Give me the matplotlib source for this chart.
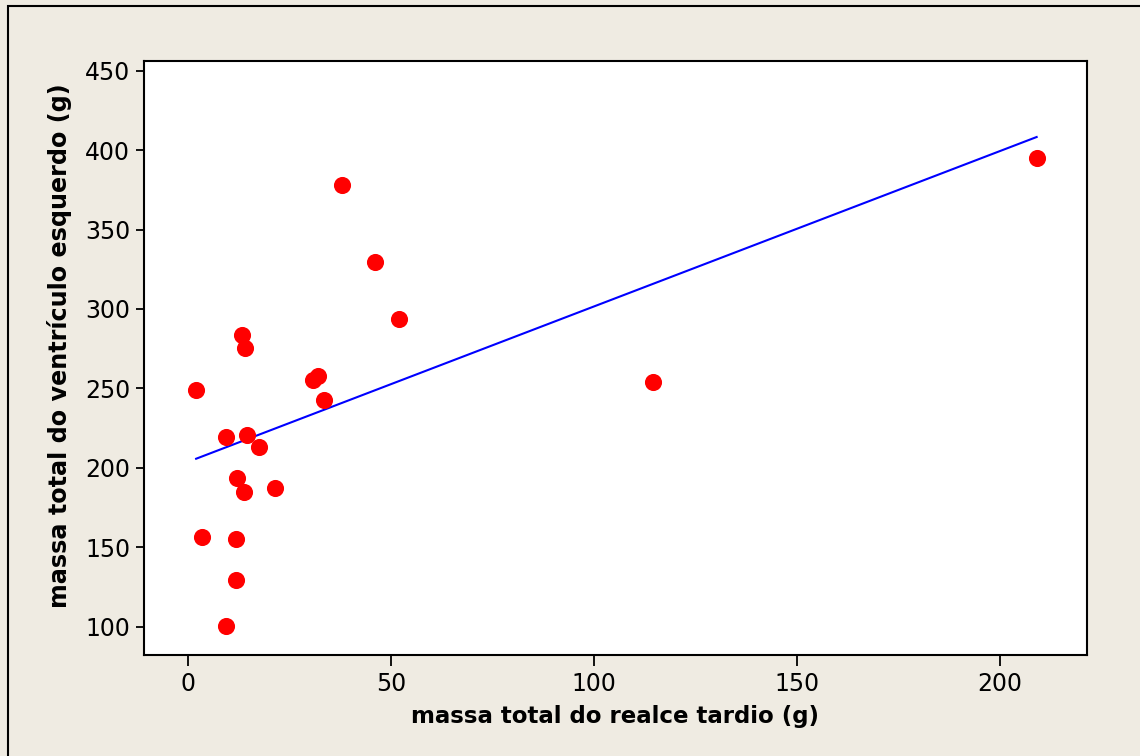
import numpy as np
import matplotlib.pyplot as plt
from matplotlib.patches import Rectangle

plt.rcParams['font.family'] = ['DejaVu Sans']

# massa total do realce tardio (g) x massa do VE (g)
realce = [2.0, 3.4, 9.3, 9.3, 11.7, 11.7, 12.1, 13.2, 13.7, 14.1, 14.5,
          17.5, 21.4, 30.9, 31.9, 33.4, 37.9, 46.1, 52.0, 114.5, 209.0]
massa_ve = [249.0, 156.2, 219.2, 100.6, 155.1, 129.2, 193.5, 283.9, 184.9, 275.2, 220.5,
            213.4, 187.4, 255.2, 257.7, 242.9, 377.8, 329.4, 293.4, 254.2, 395.0]

x_ticks = [0, 50, 100, 150, 200]
y_ticks = [100, 150, 200, 250, 300, 350, 400, 450]

bg = '#EFEBE2'

fig = plt.figure(figsize=(11.4, 7.56), dpi=100, facecolor=bg)
ax = fig.add_axes([0.1263, 0.1336, 0.8272, 0.7857])
ax.set_facecolor('white')

# reta de regressão linear
b, a = np.polyfit(realce, massa_ve, 1)
xr = np.array([min(realce), max(realce)])
ax.plot(xr, a + b * xr, color='#0000FF', linewidth=1.5, zorder=2)

ax.plot(realce, massa_ve, linestyle='none', marker='o', markersize=11.3,
        markerfacecolor='#FF0000', markeredgecolor='#FF0000', zorder=3)

ax.set_xlim(-10.84, 221.4)
ax.set_ylim(82.2, 456.1)
ax.set_xticks(x_ticks)
ax.set_yticks(y_ticks)

for s in ax.spines.values():
    s.set_linewidth(1.5)
ax.tick_params(axis='x', length=8, width=1.3, pad=4, labelsize=17)
ax.tick_params(axis='y', length=6, width=1.3, pad=4, labelsize=17)

ax.set_xlabel('massa total do realce tardio (g)', fontsize=16.5, fontweight='bold', va='center')
ax.xaxis.set_label_coords(0.5, -0.104)
ax.set_ylabel('massa total do ventrículo esquerdo (g)', fontsize=17.2, fontweight='bold', va='center')
ax.yaxis.set_label_coords(-0.090, 0.52)

# moldura da figura (só aparecem os lados de cima e da esquerda)
fig.patches.append(Rectangle((8 / 1140, -1.0), 2.0, 2.0 - 6 / 756, transform=fig.transFigure,
                             fill=False, edgecolor='black', linewidth=1.5, clip_on=False))

fig.savefig('out.png', dpi=100, facecolor=bg)
